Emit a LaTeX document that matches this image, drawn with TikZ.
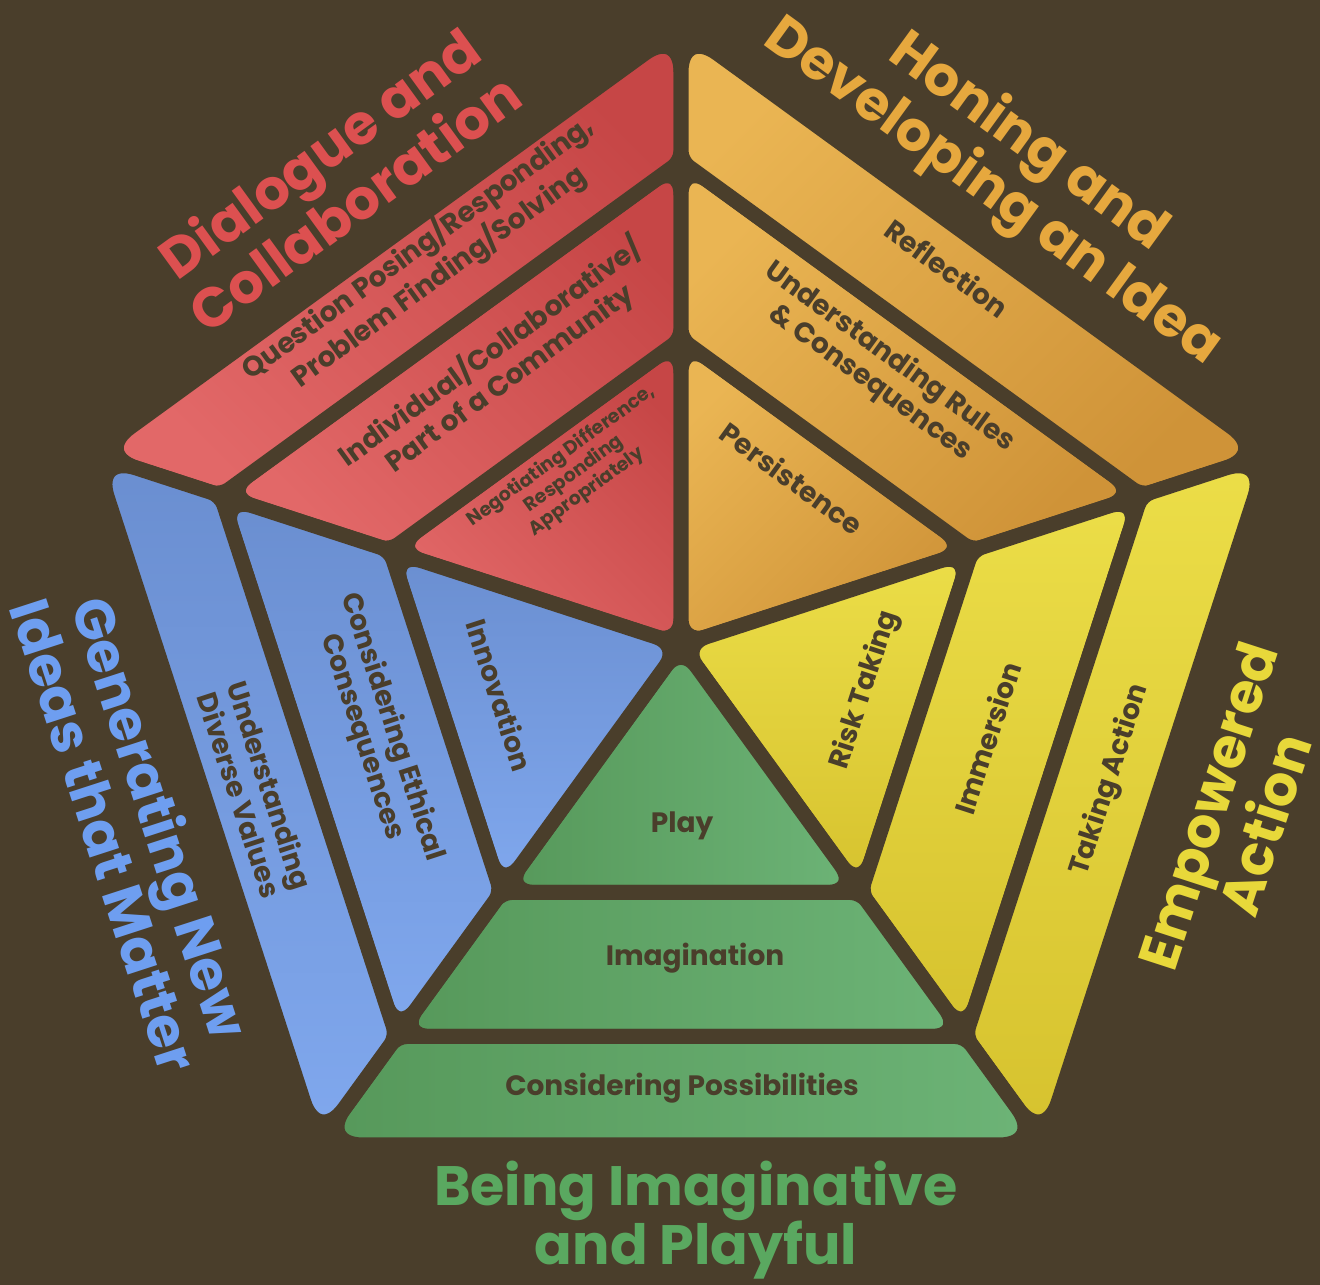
\documentclass[tikz,border=0pt]{standalone}
\usepackage{fontspec}
\setmainfont{Poppins}
\usetikzlibrary{calc}
\definecolor{bgbrown}{HTML}{4A3E2B}
\definecolor{redT}{HTML}{DC5050}
\definecolor{orangeT}{HTML}{E6A83E}
\definecolor{yellowT}{HTML}{E8D83A}
\definecolor{blueT}{HTML}{6E9EF0}
\definecolor{greenT}{HTML}{5AA860}
\definecolor{redA}{HTML}{C64646}
\definecolor{redB}{HTML}{E26868}
\definecolor{orangeA}{HTML}{EAB553}
\definecolor{orangeB}{HTML}{CF9338}
\definecolor{yellowA}{HTML}{ECDE48}
\definecolor{yellowB}{HTML}{D6C22E}
\definecolor{blueA}{HTML}{6A8ED0}
\definecolor{blueB}{HTML}{80A8EE}
\definecolor{greenA}{HTML}{56985A}
\definecolor{greenB}{HTML}{6DB477}
\tikzset{piece/.style={draw=bgbrown, line width=15pt, rounded corners=10pt, line join=round}}
\tikzset{sharpish/.style={rounded corners=10pt}, blunt/.style={rounded corners=34pt}}
\tikzset{tip/.style={rounded corners=26pt}, outer/.style={rounded corners=45pt}}
\tikzset{redfill/.style={top color=redA, bottom color=redB, shading angle=-45}}
\tikzset{orangefill/.style={top color=orangeA, bottom color=orangeB, shading angle=45}}
\tikzset{yellowfill/.style={top color=yellowA, bottom color=yellowB}}
\tikzset{bluefill/.style={top color=blueA, bottom color=blueB}}
\tikzset{greenfill/.style={left color=greenA, right color=greenB}}
\tikzset{lbl/.style={text=bgbrown, font=\bfseries\fontsize{28}{32}\selectfont, align=center, inner sep=0pt}}
\tikzset{smalllbl/.style={lbl, font=\bfseries\fontsize{19}{22}\selectfont}}
\tikzset{ttl/.style={font=\bfseries\fontsize{55.5}{59}\selectfont, align=center, inner sep=0pt}}

\begin{document}
\begin{tikzpicture}[x=1pt, y=-1pt]
	\fill[bgbrown] (0,0) rectangle (1320,1285);
	\useasboundingbox (0,0) rectangle (1320,1285);
	%
	\coordinate (c) at (681,645);
	\coordinate (vT) at ($(c)+(0,-618)$);
	\coordinate (vR) at ($(c)+(587.75,-190.97)$);
	\coordinate (vBR) at ($(c)+(363.25,499.97)$);
	\coordinate (vBL) at ($(c)+(-363.25,499.97)$);
	\coordinate (vL) at ($(c)+(-587.75,-190.97)$);
	\foreach \v in {vT,vR,vBR,vBL,vL} {
		\coordinate (\v-a) at ($(c)!0.495!(\v)$);
		\coordinate (\v-b) at ($(c)!0.783!(\v)$);
	}
	%
	% five sectors, three bands each
	\foreach \p/\q/\f in {vL/vT/redfill, vT/vR/orangefill, vR/vBR/yellowfill, vBR/vBL/greenfill, vBL/vL/bluefill} {
		\path[piece, \f] (c) [blunt] -- (\p-a) -- (\q-a) [tip] -- cycle;
		\path[piece, \f] (\p-a) [blunt] -- (\p-b) -- (\q-b) [sharpish] -- (\q-a) -- cycle;
		\path[piece, \f] (\p-b) [outer] -- (\p) -- (\q) [sharpish] -- (\q-b) -- cycle;
	}
	%
	% band labels
	\node[lbl, rotate=36] (question) at (428,262) {Question Posing/Responding,\\Problem Finding/Solving};
	\node[lbl, rotate=36] (individual) at (500,365) {Individual/Collaborative/\\Part of a Community};
	\node[smalllbl, rotate=36] (negotiating) at (574,474) {Negotiating Difference,\\Responding\\Appropriately};
	\node[lbl, rotate=-36] (reflection) at (947,268) {Reflection};
	\node[lbl, rotate=-36] (rules) at (880,370) {Understanding Rules\\\& Consequences};
	\node[lbl, rotate=-36] (persistence) at (792,478) {Persistence};
	\node[lbl, rotate=72] (risk) at (865,690) {Risk Taking};
	\node[lbl, rotate=72] (immersion) at (987,738) {Immersion};
	\node[lbl, rotate=72] (action) at (1110,780) {Taking Action};
	\node[lbl] (play) at (682,826) {Play};
	\node[lbl] (imagination) at (695,958) {Imagination};
	\node[lbl] (possibilities) at (682,1088) {Considering Possibilities};
	\node[lbl, rotate=-72] (innovation) at (500,695) {Innovation};
	\node[lbl, rotate=-72] (ethical) at (377,732) {Considering Ethical\\Consequences};
	\node[lbl, rotate=-72] (diverse) at (255,790) {Understanding\\Diverse Values};
	%
	% titles
	\node[ttl, text=redT, rotate=36] (dialogueT) at (336,177) {Dialogue and\\Collaboration};
	\node[ttl, text=orangeT, rotate=-36] (honingT) at (1010,168) {Honing and\\Developing an Idea};
	\node[ttl, text=yellowT, rotate=72] (empoweredT) at (1236,815) {Empowered\\Action};
	\node[ttl, text=greenT] (beingT) at (696,1220) {Being Imaginative\\and Playful};
	\node[ttl, text=blueT, rotate=-72] (generatingT) at (134,826) {Generating New\\Ideas that Matter};
\end{tikzpicture}
\end{document}
